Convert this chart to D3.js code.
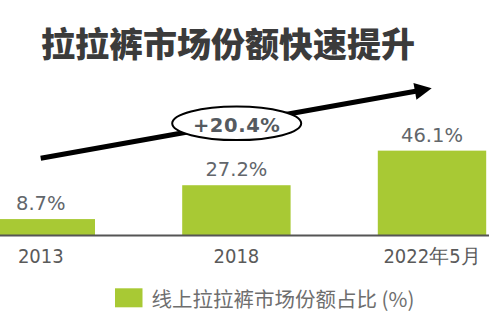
<!DOCTYPE html>
<html>
<head>
<meta charset="utf-8">
<script src="https://cdn.jsdelivr.net/npm/d3@7"></script>
<style>
  html, body { margin: 0; padding: 0; background: #fff; }
  svg { display: block; }
</style>
</head>
<body>
<svg id="chart" width="489" height="328"></svg>
<script>
const title = "拉拉裤市场份额快速提升";
const categories = ["2013", "2018", "2022年5月"];
const shareValues = [8.7, 27.2, 46.1];
const seriesName = "线上拉拉裤市场份额占比 (%)";
const growthLabel = "+20.4%";

const W = 489, H = 328;
const svg = d3.select("#chart");
const green = "#a8c934";

svg.append("rect").attr("width", W).attr("height", H).attr("fill", "#fff");

// Title
svg.append("text")
  .attr("x", 41).attr("y", 42.5)
  .attr("dominant-baseline", "central")
  .attr("font-family", "'Noto Sans CJK SC', sans-serif")
  .attr("font-weight", 900)
  .attr("font-size", 34)
  .attr("fill", "#3b3b3b")
  .text(title);

// Scales
const x = d3.scaleBand().domain(categories).range([-13.4, 486.2])
  .paddingInner(0.4458).paddingOuter(0);
const y = d3.scaleLinear().domain([0, 50]).range([235, 143.5]);

// Bars
svg.selectAll("rect.bar").data(shareValues).enter().append("rect")
  .attr("class", "bar")
  .attr("x", (d, i) => x(categories[i]))
  .attr("width", x.bandwidth())
  .attr("y", d => y(d))
  .attr("height", d => y(0) - y(d))
  .attr("fill", green);

// Axis (baseline)
const axis = d3.axisBottom(x).tickSize(0).tickPadding(0).tickFormat(() => "");
const gAxis = svg.append("g").attr("transform", `translate(0,${y(0) + 0.5})`).call(axis);
gAxis.select(".domain").remove();
gAxis.append("line").attr("x1", 0).attr("x2", W).attr("y1", 0).attr("y2", 0)
  .attr("stroke", "#555").attr("stroke-width", 2);

// Category labels
svg.selectAll("text.cat").data(categories).enter().append("text")
  .attr("class", "cat")
  .attr("x", d => x(d) + x.bandwidth() / 2)
  .attr("y", 262.7)
  .attr("text-anchor", "middle")
  .attr("font-family", "'DejaVu Sans Condensed', 'DejaVu Sans', sans-serif")
  .attr("font-stretch", "condensed")
  .attr("font-size", 20)
  .attr("fill", "#5a5a5a")
  .text(d => d);

// Value labels
svg.selectAll("text.val").data(shareValues).enter().append("text")
  .attr("class", "val")
  .attr("x", (d, i) => x(categories[i]) + x.bandwidth() / 2)
  .attr("y", d => y(d) - 8.8)
  .attr("text-anchor", "middle")
  .attr("font-family", "'DejaVu Sans', sans-serif")
  .attr("font-size", 19.5)
  .attr("fill", "#62666b")
  .text(d => d.toFixed(1) + "%");

// Trend arrow
const ax0 = 40.7, ay0 = 158.3, ax1 = 431.7, ay1 = 88.3;
const ang = Math.atan2(ay1 - ay0, ax1 - ax0);
const headLen = 17, headW = 8.5;
const bx = ax1 - headLen * Math.cos(ang), by = ay1 - headLen * Math.sin(ang);
svg.append("line")
  .attr("x1", ax0).attr("y1", ay0).attr("x2", bx + 2 * Math.cos(ang)).attr("y2", by + 2 * Math.sin(ang))
  .attr("stroke", "#000").attr("stroke-width", 5);
svg.append("path")
  .attr("d", d3.line()([
    [ax1, ay1],
    [bx - headW * Math.sin(ang), by + headW * Math.cos(ang)],
    [bx + headW * Math.sin(ang), by - headW * Math.cos(ang)]
  ]) + "Z")
  .attr("fill", "#000");

// Growth ellipse
const ex = 236.7, ey = 123.3;
svg.append("ellipse")
  .attr("cx", ex).attr("cy", ey).attr("rx", 64.5).attr("ry", 16.8)
  .attr("fill", "#fff").attr("stroke", "#000").attr("stroke-width", 2);
svg.append("text")
  .attr("x", ex).attr("y", 131.9)
  .attr("text-anchor", "middle")
  .attr("font-family", "'DejaVu Sans', sans-serif")
  .attr("font-weight", "bold")
  .attr("font-size", 19.5)
  .attr("letter-spacing", 0.6)
  .attr("fill", "#555a60")
  .text(growthLabel);

// Legend
svg.append("rect")
  .attr("x", 115).attr("y", 288.3).attr("width", 27.5).attr("height", 19)
  .attr("fill", green);
svg.append("text")
  .attr("x", 151.5).attr("y", 298)
  .attr("dominant-baseline", "central")
  .attr("font-family", "'Noto Sans CJK SC', sans-serif")
  .attr("font-weight", 400)
  .attr("font-size", 20.5)
  .attr("fill", "#6e6e6e")
  .text(seriesName);
</script>
</body>
</html>
